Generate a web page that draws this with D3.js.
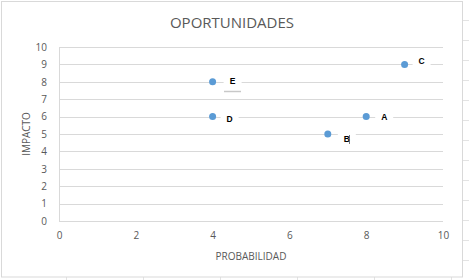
<!DOCTYPE html>
<html>
<head>
<meta charset="utf-8">
<script src="https://cdn.jsdelivr.net/npm/d3@7"></script>
<style>
  body { margin: 0; background: #ffffff; }
  svg { display: block; font-family: "Open Sans", "Liberation Sans", sans-serif; }
</style>
</head>
<body>
<svg id="chart" width="469" height="280"></svg>
<script>
// data
let labels = ["A", "B", "C", "D", "E"];
let probabilidad = [8, 7, 9, 4, 4];
let impacto = [6, 5, 9, 6, 8];
let xTicks = [0, 2, 4, 6, 8, 10];
let yTicks = [0, 1, 2, 3, 4, 5, 6, 7, 8, 9, 10];

// label nudges (px) so they sit like the excel ones
let labelOffset = { A: [18, 0], B: [19, 5], C: [17, -3], D: [17, 2], E: [20, -1] };

let svg = d3.select("#chart");
let grey = "#595959", gridCol = "#d9d9d9";

// spreadsheet cells peeking out on the right and bottom
let sheet = svg.append("g").attr("stroke", "#e3e3e3").attr("stroke-width", 1);
for (let y = 20; y < 280; y += 20) {
  sheet.append("line").attr("x1", 463).attr("x2", 469).attr("y1", y + 0.5).attr("y2", y + 0.5);
}
[66, 143, 220, 297, 374, 451].forEach(function(x) {
  sheet.append("line").attr("x1", x + 0.5).attr("x2", x + 0.5).attr("y1", 277).attr("y2", 280);
});

// chart frame
svg.append("rect")
  .attr("x", 1.5).attr("y", 1.5).attr("width", 461).attr("height", 275.5)
  .attr("fill", "#fff").attr("stroke", gridCol);

let x = d3.scaleLinear().domain([0, 10]).range([59, 443]);
let y = d3.scaleLinear().domain([0, 10]).range([221, 47]);

// gridlines
svg.append("g")
  .selectAll("line").data(yTicks).enter().append("line")
  .attr("x1", x(0)).attr("x2", x(10))
  .attr("y1", d => Math.round(y(d)) + 0.5).attr("y2", d => Math.round(y(d)) + 0.5)
  .attr("stroke", gridCol);
svg.append("line")
  .attr("x1", x(0) + 0.5).attr("x2", x(0) + 0.5).attr("y1", y(10)).attr("y2", y(0))
  .attr("stroke", gridCol);

// axes, lines hidden, just the labels
let xAxis = svg.append("g").attr("transform", "translate(0," + y(0) + ")")
  .call(d3.axisBottom(x).tickValues(xTicks).tickSize(0).tickPadding(11));
let yAxis = svg.append("g").attr("transform", "translate(" + x(0) + ",0)")
  .call(d3.axisLeft(y).tickValues(yTicks).tickSize(0).tickPadding(12));
[xAxis, yAxis].forEach(function(a) {
  a.select(".domain").remove();
  a.selectAll("text").attr("fill", grey).attr("font-size", 10)
    .attr("font-family", "'Open Sans', 'Liberation Sans', sans-serif");
});

// title + axis titles
svg.append("text").attr("x", 232).attr("y", 28).attr("text-anchor", "middle")
  .attr("font-size", 15).attr("fill", grey).text("OPORTUNIDADES");
svg.append("text").attr("x", 251).attr("y", 260).attr("text-anchor", "middle")
  .attr("font-size", 10).attr("fill", grey).text("PROBABILIDAD");
svg.append("text").attr("transform", "translate(30,134) rotate(-90)").attr("text-anchor", "middle")
  .attr("font-size", 10).attr("fill", grey).text("IMPACTO");

let pts = labels.map((l, i) => ({ label: l, px: probabilidad[i], im: impacto[i] }));

// data labels with white boxes behind them
let lab = svg.append("g").selectAll("g").data(pts).enter().append("g")
  .attr("transform", d => "translate(" + (x(d.px) + labelOffset[d.label][0]) + "," + (y(d.im) + labelOffset[d.label][1]) + ")");
lab.append("rect").attr("x", -9).attr("y", -7).attr("width", 18).attr("height", 14).attr("fill", "#fff");
lab.append("text").attr("text-anchor", "middle").attr("dy", "0.35em")
  .attr("font-size", 8.5).attr("font-weight", "bold").attr("fill", "#000")
  .attr("font-family", "'Liberation Sans', Arial, sans-serif")
  .text(d => d.label);

// little excel leftovers near E and B
svg.append("line").attr("x1", 224).attr("x2", 241).attr("y1", 91.5).attr("y2", 91.5)
  .attr("stroke", "#c8c8c8").attr("stroke-width", 1.5);
svg.append("line").attr("x1", 349.5).attr("x2", 349.5).attr("y1", 135).attr("y2", 144)
  .attr("stroke", "#555").attr("stroke-width", 0.8);

// points
svg.append("g").selectAll("circle").data(pts).enter().append("circle")
  .attr("cx", d => x(d.px)).attr("cy", d => y(d.im)).attr("r", 3.5)
  .attr("fill", "#5b9bd5");
</script>
</body>
</html>
